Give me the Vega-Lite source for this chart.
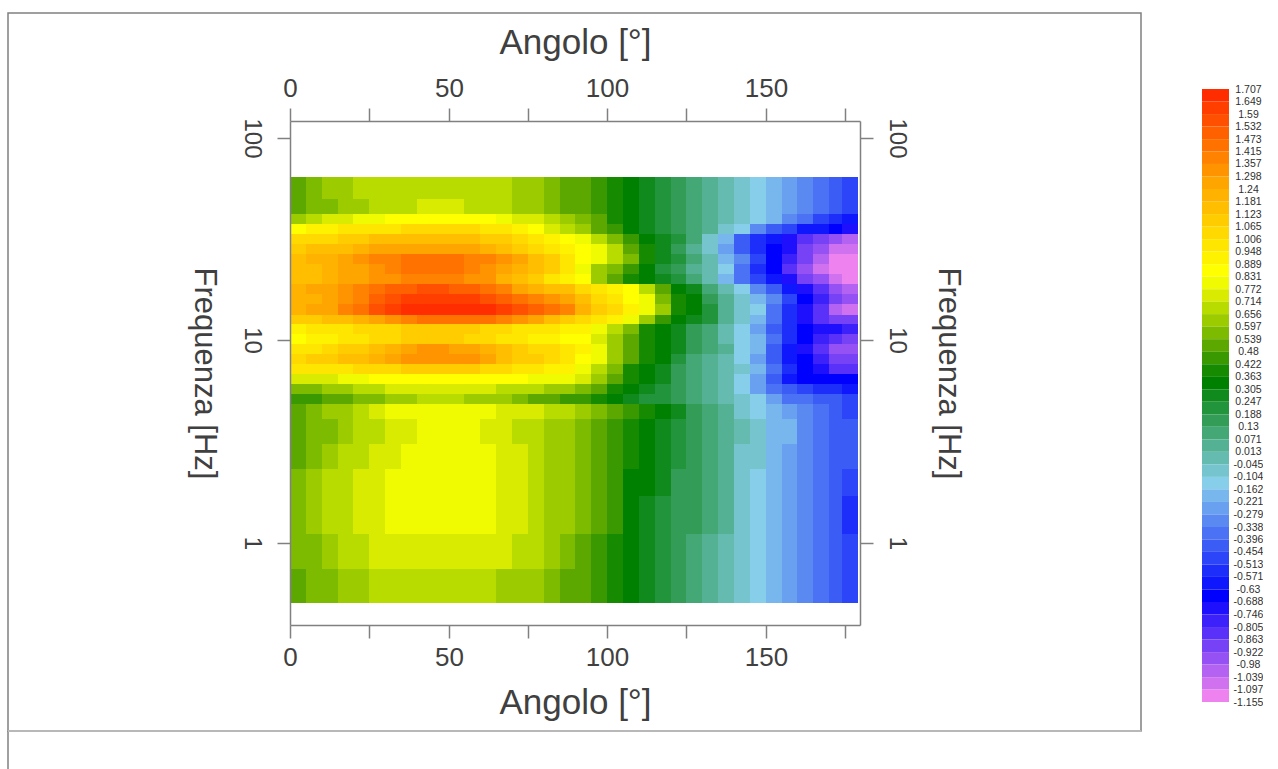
{"$schema":"https://vega.github.io/schema/vega-lite/v6.json","padding":{"left":7,"top":12,"right":0,"bottom":0},"background":"white","spacing":60,"config":{"view":{"stroke":null},"font":"Liberation Sans"},"datasets":{"rows":[{"r":0,"f":63.8,"f2":49.7},{"r":1,"f":49.7,"f2":41.9},{"r":2,"f":41.9,"f2":37.4},{"r":3,"f":37.4,"f2":33.4},{"r":4,"f":33.4,"f2":29.8},{"r":5,"f":29.8,"f2":26.6},{"r":6,"f":26.6,"f2":23.7},{"r":7,"f":23.7,"f2":21.2},{"r":8,"f":21.2,"f2":18.9},{"r":9,"f":18.9,"f2":16.9},{"r":10,"f":16.9,"f2":15.1},{"r":11,"f":15.1,"f2":13.4},{"r":12,"f":13.4,"f2":12.0},{"r":13,"f":12.0,"f2":10.7},{"r":14,"f":10.7,"f2":9.55},{"r":15,"f":9.55,"f2":8.53},{"r":16,"f":8.53,"f2":7.61},{"r":17,"f":7.61,"f2":6.79},{"r":18,"f":6.79,"f2":6.06},{"r":19,"f":6.06,"f2":5.41},{"r":20,"f":5.41,"f2":4.83},{"r":21,"f":4.83,"f2":4.07},{"r":22,"f":4.07,"f2":3.06},{"r":23,"f":3.06,"f2":2.31},{"r":24,"f":2.31,"f2":1.7},{"r":25,"f":1.7,"f2":1.1},{"r":26,"f":1.1,"f2":0.74},{"r":27,"f":0.74,"f2":0.502}],"cells":[
{"a":2.5,"r":0,"v":0.53},{"a":7.5,"r":0,"v":0.56},{"a":12.5,"r":0,"v":0.6},{"a":17.5,"r":0,"v":0.63},{"a":22.5,"r":0,"v":0.66},{"a":27.5,"r":0,"v":0.68},{"a":32.5,"r":0,"v":0.69},{"a":37.5,"r":0,"v":0.7},{"a":42.5,"r":0,"v":0.7},{"a":47.5,"r":0,"v":0.7},{"a":52.5,"r":0,"v":0.7},{"a":57.5,"r":0,"v":0.69},{"a":62.5,"r":0,"v":0.68},{"a":67.5,"r":0,"v":0.66},{"a":72.5,"r":0,"v":0.63},{"a":77.5,"r":0,"v":0.6},{"a":82.5,"r":0,"v":0.57},{"a":87.5,"r":0,"v":0.53},{"a":92.5,"r":0,"v":0.48},{"a":97.5,"r":0,"v":0.43},{"a":102.5,"r":0,"v":0.38},{"a":107.5,"r":0,"v":0.32},{"a":112.5,"r":0,"v":0.27},{"a":117.5,"r":0,"v":0.21},{"a":122.5,"r":0,"v":0.15},{"a":127.5,"r":0,"v":0.09},{"a":132.5,"r":0,"v":0.03},{"a":137.5,"r":0,"v":-0.04},{"a":142.5,"r":0,"v":-0.09},{"a":147.5,"r":0,"v":-0.16},{"a":152.5,"r":0,"v":-0.21},{"a":157.5,"r":0,"v":-0.27},{"a":162.5,"r":0,"v":-0.33},{"a":167.5,"r":0,"v":-0.39},{"a":172.5,"r":0,"v":-0.44},{"a":176.5,"r":0,"v":-0.48},
{"a":2.5,"r":1,"v":0.52},{"a":7.5,"r":1,"v":0.55},{"a":12.5,"r":1,"v":0.58},{"a":17.5,"r":1,"v":0.61},{"a":22.5,"r":1,"v":0.64},{"a":27.5,"r":1,"v":0.67},{"a":32.5,"r":1,"v":0.7},{"a":37.5,"r":1,"v":0.71},{"a":42.5,"r":1,"v":0.72},{"a":47.5,"r":1,"v":0.72},{"a":52.5,"r":1,"v":0.72},{"a":57.5,"r":1,"v":0.71},{"a":62.5,"r":1,"v":0.69},{"a":67.5,"r":1,"v":0.67},{"a":72.5,"r":1,"v":0.64},{"a":77.5,"r":1,"v":0.61},{"a":82.5,"r":1,"v":0.57},{"a":87.5,"r":1,"v":0.53},{"a":92.5,"r":1,"v":0.48},{"a":97.5,"r":1,"v":0.44},{"a":102.5,"r":1,"v":0.39},{"a":107.5,"r":1,"v":0.34},{"a":112.5,"r":1,"v":0.29},{"a":117.5,"r":1,"v":0.23},{"a":122.5,"r":1,"v":0.17},{"a":127.5,"r":1,"v":0.11},{"a":132.5,"r":1,"v":0.05},{"a":137.5,"r":1,"v":-0.02},{"a":142.5,"r":1,"v":-0.08},{"a":147.5,"r":1,"v":-0.15},{"a":152.5,"r":1,"v":-0.21},{"a":157.5,"r":1,"v":-0.27},{"a":162.5,"r":1,"v":-0.33},{"a":167.5,"r":1,"v":-0.39},{"a":172.5,"r":1,"v":-0.45},{"a":176.5,"r":1,"v":-0.5},
{"a":2.5,"r":2,"v":0.6},{"a":7.5,"r":2,"v":0.66},{"a":12.5,"r":2,"v":0.72},{"a":17.5,"r":2,"v":0.76},{"a":22.5,"r":2,"v":0.79},{"a":27.5,"r":2,"v":0.82},{"a":32.5,"r":2,"v":0.85},{"a":37.5,"r":2,"v":0.87},{"a":42.5,"r":2,"v":0.88},{"a":47.5,"r":2,"v":0.88},{"a":52.5,"r":2,"v":0.88},{"a":57.5,"r":2,"v":0.87},{"a":62.5,"r":2,"v":0.85},{"a":67.5,"r":2,"v":0.82},{"a":72.5,"r":2,"v":0.77},{"a":77.5,"r":2,"v":0.72},{"a":82.5,"r":2,"v":0.66},{"a":87.5,"r":2,"v":0.6},{"a":92.5,"r":2,"v":0.54},{"a":97.5,"r":2,"v":0.48},{"a":102.5,"r":2,"v":0.42},{"a":107.5,"r":2,"v":0.35},{"a":112.5,"r":2,"v":0.29},{"a":117.5,"r":2,"v":0.24},{"a":122.5,"r":2,"v":0.17},{"a":127.5,"r":2,"v":0.11},{"a":132.5,"r":2,"v":0.05},{"a":137.5,"r":2,"v":-0.01},{"a":142.5,"r":2,"v":-0.08},{"a":147.5,"r":2,"v":-0.15},{"a":152.5,"r":2,"v":-0.22},{"a":157.5,"r":2,"v":-0.3},{"a":162.5,"r":2,"v":-0.38},{"a":167.5,"r":2,"v":-0.46},{"a":172.5,"r":2,"v":-0.54},{"a":176.5,"r":2,"v":-0.6},
{"a":2.5,"r":3,"v":0.88},{"a":7.5,"r":3,"v":0.9},{"a":12.5,"r":3,"v":0.92},{"a":17.5,"r":3,"v":0.95},{"a":22.5,"r":3,"v":0.97},{"a":27.5,"r":3,"v":0.99},{"a":32.5,"r":3,"v":1.0},{"a":37.5,"r":3,"v":1.02},{"a":42.5,"r":3,"v":1.03},{"a":47.5,"r":3,"v":1.03},{"a":52.5,"r":3,"v":1.02},{"a":57.5,"r":3,"v":1.01},{"a":62.5,"r":3,"v":0.98},{"a":67.5,"r":3,"v":0.95},{"a":72.5,"r":3,"v":0.9},{"a":77.5,"r":3,"v":0.84},{"a":82.5,"r":3,"v":0.76},{"a":87.5,"r":3,"v":0.68},{"a":92.5,"r":3,"v":0.61},{"a":97.5,"r":3,"v":0.52},{"a":102.5,"r":3,"v":0.44},{"a":107.5,"r":3,"v":0.36},{"a":112.5,"r":3,"v":0.3},{"a":117.5,"r":3,"v":0.24},{"a":122.5,"r":3,"v":0.18},{"a":127.5,"r":3,"v":0.12},{"a":132.5,"r":3,"v":0.04},{"a":137.5,"r":3,"v":-0.05},{"a":142.5,"r":3,"v":-0.15},{"a":147.5,"r":3,"v":-0.28},{"a":152.5,"r":3,"v":-0.4},{"a":157.5,"r":3,"v":-0.5},{"a":162.5,"r":3,"v":-0.58},{"a":167.5,"r":3,"v":-0.63},{"a":172.5,"r":3,"v":-0.67},{"a":176.5,"r":3,"v":-0.7},
{"a":2.5,"r":4,"v":1.02},{"a":7.5,"r":4,"v":1.04},{"a":12.5,"r":4,"v":1.06},{"a":17.5,"r":4,"v":1.09},{"a":22.5,"r":4,"v":1.11},{"a":27.5,"r":4,"v":1.13},{"a":32.5,"r":4,"v":1.15},{"a":37.5,"r":4,"v":1.16},{"a":42.5,"r":4,"v":1.17},{"a":47.5,"r":4,"v":1.17},{"a":52.5,"r":4,"v":1.16},{"a":57.5,"r":4,"v":1.14},{"a":62.5,"r":4,"v":1.12},{"a":67.5,"r":4,"v":1.09},{"a":72.5,"r":4,"v":1.05},{"a":77.5,"r":4,"v":1.0},{"a":82.5,"r":4,"v":0.94},{"a":87.5,"r":4,"v":0.88},{"a":92.5,"r":4,"v":0.78},{"a":97.5,"r":4,"v":0.68},{"a":102.5,"r":4,"v":0.55},{"a":107.5,"r":4,"v":0.43},{"a":112.5,"r":4,"v":0.35},{"a":117.5,"r":4,"v":0.27},{"a":122.5,"r":4,"v":0.19},{"a":127.5,"r":4,"v":0.08},{"a":132.5,"r":4,"v":-0.06},{"a":137.5,"r":4,"v":-0.22},{"a":142.5,"r":4,"v":-0.42},{"a":147.5,"r":4,"v":-0.53},{"a":152.5,"r":4,"v":-0.63},{"a":157.5,"r":4,"v":-0.72},{"a":162.5,"r":4,"v":-0.82},{"a":167.5,"r":4,"v":-0.9},{"a":172.5,"r":4,"v":-0.96},{"a":176.5,"r":4,"v":-1.0},
{"a":2.5,"r":5,"v":1.12},{"a":7.5,"r":5,"v":1.14},{"a":12.5,"r":5,"v":1.16},{"a":17.5,"r":5,"v":1.18},{"a":22.5,"r":5,"v":1.21},{"a":27.5,"r":5,"v":1.24},{"a":32.5,"r":5,"v":1.26},{"a":37.5,"r":5,"v":1.28},{"a":42.5,"r":5,"v":1.29},{"a":47.5,"r":5,"v":1.29},{"a":52.5,"r":5,"v":1.28},{"a":57.5,"r":5,"v":1.26},{"a":62.5,"r":5,"v":1.22},{"a":67.5,"r":5,"v":1.17},{"a":72.5,"r":5,"v":1.1},{"a":77.5,"r":5,"v":1.03},{"a":82.5,"r":5,"v":0.96},{"a":87.5,"r":5,"v":0.9},{"a":92.5,"r":5,"v":0.86},{"a":97.5,"r":5,"v":0.78},{"a":102.5,"r":5,"v":0.66},{"a":107.5,"r":5,"v":0.52},{"a":112.5,"r":5,"v":0.38},{"a":117.5,"r":5,"v":0.28},{"a":122.5,"r":5,"v":0.17},{"a":127.5,"r":5,"v":0.05},{"a":132.5,"r":5,"v":-0.1},{"a":137.5,"r":5,"v":-0.25},{"a":142.5,"r":5,"v":-0.42},{"a":147.5,"r":5,"v":-0.56},{"a":152.5,"r":5,"v":-0.65},{"a":157.5,"r":5,"v":-0.72},{"a":162.5,"r":5,"v":-0.87},{"a":167.5,"r":5,"v":-0.97},{"a":172.5,"r":5,"v":-1.04},{"a":176.5,"r":5,"v":-1.08},
{"a":2.5,"r":6,"v":1.17},{"a":7.5,"r":6,"v":1.19},{"a":12.5,"r":6,"v":1.22},{"a":17.5,"r":6,"v":1.25},{"a":22.5,"r":6,"v":1.3},{"a":27.5,"r":6,"v":1.36},{"a":32.5,"r":6,"v":1.4},{"a":37.5,"r":6,"v":1.42},{"a":42.5,"r":6,"v":1.43},{"a":47.5,"r":6,"v":1.43},{"a":52.5,"r":6,"v":1.42},{"a":57.5,"r":6,"v":1.4},{"a":62.5,"r":6,"v":1.36},{"a":67.5,"r":6,"v":1.31},{"a":72.5,"r":6,"v":1.24},{"a":77.5,"r":6,"v":1.17},{"a":82.5,"r":6,"v":1.08},{"a":87.5,"r":6,"v":1.0},{"a":92.5,"r":6,"v":0.88},{"a":97.5,"r":6,"v":0.82},{"a":102.5,"r":6,"v":0.7},{"a":107.5,"r":6,"v":0.55},{"a":112.5,"r":6,"v":0.42},{"a":117.5,"r":6,"v":0.3},{"a":122.5,"r":6,"v":0.2},{"a":127.5,"r":6,"v":0.08},{"a":132.5,"r":6,"v":-0.04},{"a":137.5,"r":6,"v":-0.2},{"a":142.5,"r":6,"v":-0.32},{"a":147.5,"r":6,"v":-0.5},{"a":152.5,"r":6,"v":-0.64},{"a":157.5,"r":6,"v":-0.78},{"a":162.5,"r":6,"v":-0.9},{"a":167.5,"r":6,"v":-1.02},{"a":172.5,"r":6,"v":-1.12},{"a":176.5,"r":6,"v":-1.15},
{"a":2.5,"r":7,"v":1.16},{"a":7.5,"r":7,"v":1.18},{"a":12.5,"r":7,"v":1.21},{"a":17.5,"r":7,"v":1.24},{"a":22.5,"r":7,"v":1.28},{"a":27.5,"r":7,"v":1.33},{"a":32.5,"r":7,"v":1.38},{"a":37.5,"r":7,"v":1.42},{"a":42.5,"r":7,"v":1.44},{"a":47.5,"r":7,"v":1.44},{"a":52.5,"r":7,"v":1.42},{"a":57.5,"r":7,"v":1.38},{"a":62.5,"r":7,"v":1.33},{"a":67.5,"r":7,"v":1.28},{"a":72.5,"r":7,"v":1.22},{"a":77.5,"r":7,"v":1.16},{"a":82.5,"r":7,"v":1.08},{"a":87.5,"r":7,"v":0.98},{"a":92.5,"r":7,"v":0.78},{"a":97.5,"r":7,"v":0.62},{"a":102.5,"r":7,"v":0.55},{"a":107.5,"r":7,"v":0.45},{"a":112.5,"r":7,"v":0.33},{"a":117.5,"r":7,"v":0.24},{"a":122.5,"r":7,"v":0.15},{"a":127.5,"r":7,"v":0.06},{"a":132.5,"r":7,"v":-0.04},{"a":137.5,"r":7,"v":-0.16},{"a":142.5,"r":7,"v":-0.34},{"a":147.5,"r":7,"v":-0.52},{"a":152.5,"r":7,"v":-0.66},{"a":157.5,"r":7,"v":-0.82},{"a":162.5,"r":7,"v":-0.95},{"a":167.5,"r":7,"v":-1.05},{"a":172.5,"r":7,"v":-1.13},{"a":176.5,"r":7,"v":-1.15},
{"a":2.5,"r":8,"v":1.16},{"a":7.5,"r":8,"v":1.18},{"a":12.5,"r":8,"v":1.21},{"a":17.5,"r":8,"v":1.24},{"a":22.5,"r":8,"v":1.28},{"a":27.5,"r":8,"v":1.32},{"a":32.5,"r":8,"v":1.35},{"a":37.5,"r":8,"v":1.38},{"a":42.5,"r":8,"v":1.38},{"a":47.5,"r":8,"v":1.38},{"a":52.5,"r":8,"v":1.37},{"a":57.5,"r":8,"v":1.35},{"a":62.5,"r":8,"v":1.3},{"a":67.5,"r":8,"v":1.22},{"a":72.5,"r":8,"v":1.15},{"a":77.5,"r":8,"v":1.08},{"a":82.5,"r":8,"v":1.0},{"a":87.5,"r":8,"v":0.94},{"a":92.5,"r":8,"v":0.86},{"a":97.5,"r":8,"v":0.64},{"a":102.5,"r":8,"v":0.5},{"a":107.5,"r":8,"v":0.42},{"a":112.5,"r":8,"v":0.36},{"a":117.5,"r":8,"v":0.28},{"a":122.5,"r":8,"v":0.2},{"a":127.5,"r":8,"v":0.1},{"a":132.5,"r":8,"v":-0.02},{"a":137.5,"r":8,"v":-0.18},{"a":142.5,"r":8,"v":-0.34},{"a":147.5,"r":8,"v":-0.5},{"a":152.5,"r":8,"v":-0.62},{"a":157.5,"r":8,"v":-0.74},{"a":162.5,"r":8,"v":-0.88},{"a":167.5,"r":8,"v":-0.98},{"a":172.5,"r":8,"v":-1.06},{"a":176.5,"r":8,"v":-1.1},
{"a":2.5,"r":9,"v":1.21},{"a":7.5,"r":9,"v":1.24},{"a":12.5,"r":9,"v":1.27},{"a":17.5,"r":9,"v":1.33},{"a":22.5,"r":9,"v":1.39},{"a":27.5,"r":9,"v":1.45},{"a":32.5,"r":9,"v":1.5},{"a":37.5,"r":9,"v":1.53},{"a":42.5,"r":9,"v":1.55},{"a":47.5,"r":9,"v":1.55},{"a":52.5,"r":9,"v":1.53},{"a":57.5,"r":9,"v":1.5},{"a":62.5,"r":9,"v":1.46},{"a":67.5,"r":9,"v":1.38},{"a":72.5,"r":9,"v":1.29},{"a":77.5,"r":9,"v":1.22},{"a":82.5,"r":9,"v":1.18},{"a":87.5,"r":9,"v":1.13},{"a":92.5,"r":9,"v":1.05},{"a":97.5,"r":9,"v":0.98},{"a":102.5,"r":9,"v":0.92},{"a":107.5,"r":9,"v":0.84},{"a":112.5,"r":9,"v":0.68},{"a":117.5,"r":9,"v":0.5},{"a":122.5,"r":9,"v":0.34},{"a":127.5,"r":9,"v":0.26},{"a":132.5,"r":9,"v":0.1},{"a":137.5,"r":9,"v":-0.04},{"a":142.5,"r":9,"v":-0.14},{"a":147.5,"r":9,"v":-0.3},{"a":152.5,"r":9,"v":-0.45},{"a":157.5,"r":9,"v":-0.6},{"a":162.5,"r":9,"v":-0.72},{"a":167.5,"r":9,"v":-0.86},{"a":172.5,"r":9,"v":-0.97},{"a":176.5,"r":9,"v":-1.02},
{"a":2.5,"r":10,"v":1.2},{"a":7.5,"r":10,"v":1.23},{"a":12.5,"r":10,"v":1.27},{"a":17.5,"r":10,"v":1.33},{"a":22.5,"r":10,"v":1.4},{"a":27.5,"r":10,"v":1.48},{"a":32.5,"r":10,"v":1.55},{"a":37.5,"r":10,"v":1.6},{"a":42.5,"r":10,"v":1.63},{"a":47.5,"r":10,"v":1.63},{"a":52.5,"r":10,"v":1.63},{"a":57.5,"r":10,"v":1.61},{"a":62.5,"r":10,"v":1.57},{"a":67.5,"r":10,"v":1.5},{"a":72.5,"r":10,"v":1.44},{"a":77.5,"r":10,"v":1.37},{"a":82.5,"r":10,"v":1.3},{"a":87.5,"r":10,"v":1.25},{"a":92.5,"r":10,"v":1.15},{"a":97.5,"r":10,"v":1.05},{"a":102.5,"r":10,"v":0.97},{"a":107.5,"r":10,"v":0.88},{"a":112.5,"r":10,"v":0.78},{"a":117.5,"r":10,"v":0.56},{"a":122.5,"r":10,"v":0.4},{"a":127.5,"r":10,"v":0.32},{"a":132.5,"r":10,"v":0.18},{"a":137.5,"r":10,"v":0.05},{"a":142.5,"r":10,"v":-0.08},{"a":147.5,"r":10,"v":-0.18},{"a":152.5,"r":10,"v":-0.33},{"a":157.5,"r":10,"v":-0.5},{"a":162.5,"r":10,"v":-0.68},{"a":167.5,"r":10,"v":-0.8},{"a":172.5,"r":10,"v":-0.9},{"a":176.5,"r":10,"v":-0.96},
{"a":2.5,"r":11,"v":1.2},{"a":7.5,"r":11,"v":1.24},{"a":12.5,"r":11,"v":1.28},{"a":17.5,"r":11,"v":1.36},{"a":22.5,"r":11,"v":1.45},{"a":27.5,"r":11,"v":1.55},{"a":32.5,"r":11,"v":1.63},{"a":37.5,"r":11,"v":1.67},{"a":42.5,"r":11,"v":1.69},{"a":47.5,"r":11,"v":1.69},{"a":52.5,"r":11,"v":1.69},{"a":57.5,"r":11,"v":1.69},{"a":62.5,"r":11,"v":1.68},{"a":67.5,"r":11,"v":1.62},{"a":72.5,"r":11,"v":1.55},{"a":77.5,"r":11,"v":1.48},{"a":82.5,"r":11,"v":1.42},{"a":87.5,"r":11,"v":1.36},{"a":92.5,"r":11,"v":1.22},{"a":97.5,"r":11,"v":1.12},{"a":102.5,"r":11,"v":1.02},{"a":107.5,"r":11,"v":0.92},{"a":112.5,"r":11,"v":0.82},{"a":117.5,"r":11,"v":0.64},{"a":122.5,"r":11,"v":0.42},{"a":127.5,"r":11,"v":0.32},{"a":132.5,"r":11,"v":0.22},{"a":137.5,"r":11,"v":0.06},{"a":142.5,"r":11,"v":-0.06},{"a":147.5,"r":11,"v":-0.16},{"a":152.5,"r":11,"v":-0.36},{"a":157.5,"r":11,"v":-0.56},{"a":162.5,"r":11,"v":-0.72},{"a":167.5,"r":11,"v":-0.86},{"a":172.5,"r":11,"v":-1.0},{"a":176.5,"r":11,"v":-1.06},
{"a":2.5,"r":12,"v":1.1},{"a":7.5,"r":12,"v":1.12},{"a":12.5,"r":12,"v":1.14},{"a":17.5,"r":12,"v":1.17},{"a":22.5,"r":12,"v":1.2},{"a":27.5,"r":12,"v":1.24},{"a":32.5,"r":12,"v":1.3},{"a":37.5,"r":12,"v":1.36},{"a":42.5,"r":12,"v":1.42},{"a":47.5,"r":12,"v":1.46},{"a":52.5,"r":12,"v":1.46},{"a":57.5,"r":12,"v":1.45},{"a":62.5,"r":12,"v":1.42},{"a":67.5,"r":12,"v":1.36},{"a":72.5,"r":12,"v":1.3},{"a":77.5,"r":12,"v":1.25},{"a":82.5,"r":12,"v":1.18},{"a":87.5,"r":12,"v":1.12},{"a":92.5,"r":12,"v":1.05},{"a":97.5,"r":12,"v":0.98},{"a":102.5,"r":12,"v":0.9},{"a":107.5,"r":12,"v":0.82},{"a":112.5,"r":12,"v":0.62},{"a":117.5,"r":12,"v":0.46},{"a":122.5,"r":12,"v":0.36},{"a":127.5,"r":12,"v":0.3},{"a":132.5,"r":12,"v":0.2},{"a":137.5,"r":12,"v":0.04},{"a":142.5,"r":12,"v":-0.09},{"a":147.5,"r":12,"v":-0.22},{"a":152.5,"r":12,"v":-0.38},{"a":157.5,"r":12,"v":-0.55},{"a":162.5,"r":12,"v":-0.72},{"a":167.5,"r":12,"v":-0.84},{"a":172.5,"r":12,"v":-0.88},{"a":176.5,"r":12,"v":-0.9},
{"a":2.5,"r":13,"v":0.92},{"a":7.5,"r":13,"v":0.95},{"a":12.5,"r":13,"v":0.98},{"a":17.5,"r":13,"v":1.0},{"a":22.5,"r":13,"v":1.02},{"a":27.5,"r":13,"v":1.04},{"a":32.5,"r":13,"v":1.06},{"a":37.5,"r":13,"v":1.08},{"a":42.5,"r":13,"v":1.09},{"a":47.5,"r":13,"v":1.09},{"a":52.5,"r":13,"v":1.09},{"a":57.5,"r":13,"v":1.08},{"a":62.5,"r":13,"v":1.06},{"a":67.5,"r":13,"v":1.03},{"a":72.5,"r":13,"v":1.0},{"a":77.5,"r":13,"v":0.98},{"a":82.5,"r":13,"v":0.96},{"a":87.5,"r":13,"v":0.94},{"a":92.5,"r":13,"v":0.9},{"a":97.5,"r":13,"v":0.82},{"a":102.5,"r":13,"v":0.68},{"a":107.5,"r":13,"v":0.54},{"a":112.5,"r":13,"v":0.42},{"a":117.5,"r":13,"v":0.34},{"a":122.5,"r":13,"v":0.28},{"a":127.5,"r":13,"v":0.18},{"a":132.5,"r":13,"v":0.09},{"a":137.5,"r":13,"v":-0.02},{"a":142.5,"r":13,"v":-0.12},{"a":147.5,"r":13,"v":-0.26},{"a":152.5,"r":13,"v":-0.42},{"a":157.5,"r":13,"v":-0.55},{"a":162.5,"r":13,"v":-0.64},{"a":167.5,"r":13,"v":-0.7},{"a":172.5,"r":13,"v":-0.74},{"a":176.5,"r":13,"v":-0.76},
{"a":2.5,"r":14,"v":0.88},{"a":7.5,"r":14,"v":0.9},{"a":12.5,"r":14,"v":0.93},{"a":17.5,"r":14,"v":0.96},{"a":22.5,"r":14,"v":0.99},{"a":27.5,"r":14,"v":1.02},{"a":32.5,"r":14,"v":1.05},{"a":37.5,"r":14,"v":1.07},{"a":42.5,"r":14,"v":1.08},{"a":47.5,"r":14,"v":1.08},{"a":52.5,"r":14,"v":1.07},{"a":57.5,"r":14,"v":1.05},{"a":62.5,"r":14,"v":1.02},{"a":67.5,"r":14,"v":0.99},{"a":72.5,"r":14,"v":0.96},{"a":77.5,"r":14,"v":0.93},{"a":82.5,"r":14,"v":0.9},{"a":87.5,"r":14,"v":0.88},{"a":92.5,"r":14,"v":0.85},{"a":97.5,"r":14,"v":0.75},{"a":102.5,"r":14,"v":0.62},{"a":107.5,"r":14,"v":0.5},{"a":112.5,"r":14,"v":0.38},{"a":117.5,"r":14,"v":0.33},{"a":122.5,"r":14,"v":0.26},{"a":127.5,"r":14,"v":0.16},{"a":132.5,"r":14,"v":0.09},{"a":137.5,"r":14,"v":-0.01},{"a":142.5,"r":14,"v":-0.11},{"a":147.5,"r":14,"v":-0.22},{"a":152.5,"r":14,"v":-0.38},{"a":157.5,"r":14,"v":-0.55},{"a":162.5,"r":14,"v":-0.66},{"a":167.5,"r":14,"v":-0.76},{"a":172.5,"r":14,"v":-0.84},{"a":176.5,"r":14,"v":-0.88},
{"a":2.5,"r":15,"v":0.96},{"a":7.5,"r":15,"v":1.0},{"a":12.5,"r":15,"v":1.04},{"a":17.5,"r":15,"v":1.08},{"a":22.5,"r":15,"v":1.12},{"a":27.5,"r":15,"v":1.17},{"a":32.5,"r":15,"v":1.22},{"a":37.5,"r":15,"v":1.27},{"a":42.5,"r":15,"v":1.3},{"a":47.5,"r":15,"v":1.3},{"a":52.5,"r":15,"v":1.28},{"a":57.5,"r":15,"v":1.24},{"a":62.5,"r":15,"v":1.2},{"a":67.5,"r":15,"v":1.14},{"a":72.5,"r":15,"v":1.08},{"a":77.5,"r":15,"v":1.04},{"a":82.5,"r":15,"v":1.01},{"a":87.5,"r":15,"v":0.98},{"a":92.5,"r":15,"v":0.92},{"a":97.5,"r":15,"v":0.8},{"a":102.5,"r":15,"v":0.64},{"a":107.5,"r":15,"v":0.52},{"a":112.5,"r":15,"v":0.4},{"a":117.5,"r":15,"v":0.34},{"a":122.5,"r":15,"v":0.25},{"a":127.5,"r":15,"v":0.14},{"a":132.5,"r":15,"v":0.08},{"a":137.5,"r":15,"v":0.02},{"a":142.5,"r":15,"v":-0.12},{"a":147.5,"r":15,"v":-0.22},{"a":152.5,"r":15,"v":-0.4},{"a":157.5,"r":15,"v":-0.58},{"a":162.5,"r":15,"v":-0.7},{"a":167.5,"r":15,"v":-0.85},{"a":172.5,"r":15,"v":-0.94},{"a":176.5,"r":15,"v":-0.98},
{"a":2.5,"r":16,"v":1.05},{"a":7.5,"r":16,"v":1.08},{"a":12.5,"r":16,"v":1.11},{"a":17.5,"r":16,"v":1.14},{"a":22.5,"r":16,"v":1.18},{"a":27.5,"r":16,"v":1.22},{"a":32.5,"r":16,"v":1.28},{"a":37.5,"r":16,"v":1.33},{"a":42.5,"r":16,"v":1.35},{"a":47.5,"r":16,"v":1.35},{"a":52.5,"r":16,"v":1.35},{"a":57.5,"r":16,"v":1.33},{"a":62.5,"r":16,"v":1.25},{"a":67.5,"r":16,"v":1.18},{"a":72.5,"r":16,"v":1.12},{"a":77.5,"r":16,"v":1.07},{"a":82.5,"r":16,"v":1.03},{"a":87.5,"r":16,"v":1.0},{"a":92.5,"r":16,"v":0.88},{"a":97.5,"r":16,"v":0.78},{"a":102.5,"r":16,"v":0.62},{"a":107.5,"r":16,"v":0.48},{"a":112.5,"r":16,"v":0.38},{"a":117.5,"r":16,"v":0.32},{"a":122.5,"r":16,"v":0.24},{"a":127.5,"r":16,"v":0.12},{"a":132.5,"r":16,"v":0.06},{"a":137.5,"r":16,"v":-0.02},{"a":142.5,"r":16,"v":-0.12},{"a":147.5,"r":16,"v":-0.26},{"a":152.5,"r":16,"v":-0.42},{"a":157.5,"r":16,"v":-0.58},{"a":162.5,"r":16,"v":-0.68},{"a":167.5,"r":16,"v":-0.8},{"a":172.5,"r":16,"v":-0.9},{"a":176.5,"r":16,"v":-0.92},
{"a":2.5,"r":17,"v":0.95},{"a":7.5,"r":17,"v":0.96},{"a":12.5,"r":17,"v":0.98},{"a":17.5,"r":17,"v":1.0},{"a":22.5,"r":17,"v":1.02},{"a":27.5,"r":17,"v":1.03},{"a":32.5,"r":17,"v":1.05},{"a":37.5,"r":17,"v":1.07},{"a":42.5,"r":17,"v":1.08},{"a":47.5,"r":17,"v":1.08},{"a":52.5,"r":17,"v":1.08},{"a":57.5,"r":17,"v":1.07},{"a":62.5,"r":17,"v":1.05},{"a":67.5,"r":17,"v":1.02},{"a":72.5,"r":17,"v":1.0},{"a":77.5,"r":17,"v":0.97},{"a":82.5,"r":17,"v":0.94},{"a":87.5,"r":17,"v":0.9},{"a":92.5,"r":17,"v":0.82},{"a":97.5,"r":17,"v":0.7},{"a":102.5,"r":17,"v":0.56},{"a":107.5,"r":17,"v":0.42},{"a":112.5,"r":17,"v":0.33},{"a":117.5,"r":17,"v":0.26},{"a":122.5,"r":17,"v":0.14},{"a":127.5,"r":17,"v":0.08},{"a":132.5,"r":17,"v":0.04},{"a":137.5,"r":17,"v":-0.02},{"a":142.5,"r":17,"v":-0.1},{"a":147.5,"r":17,"v":-0.2},{"a":152.5,"r":17,"v":-0.38},{"a":157.5,"r":17,"v":-0.56},{"a":162.5,"r":17,"v":-0.64},{"a":167.5,"r":17,"v":-0.72},{"a":172.5,"r":17,"v":-0.82},{"a":176.5,"r":17,"v":-0.86},
{"a":2.5,"r":18,"v":0.72},{"a":7.5,"r":18,"v":0.74},{"a":12.5,"r":18,"v":0.77},{"a":17.5,"r":18,"v":0.8},{"a":22.5,"r":18,"v":0.83},{"a":27.5,"r":18,"v":0.85},{"a":32.5,"r":18,"v":0.86},{"a":37.5,"r":18,"v":0.87},{"a":42.5,"r":18,"v":0.88},{"a":47.5,"r":18,"v":0.88},{"a":52.5,"r":18,"v":0.88},{"a":57.5,"r":18,"v":0.87},{"a":62.5,"r":18,"v":0.86},{"a":67.5,"r":18,"v":0.85},{"a":72.5,"r":18,"v":0.84},{"a":77.5,"r":18,"v":0.83},{"a":82.5,"r":18,"v":0.81},{"a":87.5,"r":18,"v":0.78},{"a":92.5,"r":18,"v":0.72},{"a":97.5,"r":18,"v":0.64},{"a":102.5,"r":18,"v":0.52},{"a":107.5,"r":18,"v":0.42},{"a":112.5,"r":18,"v":0.33},{"a":117.5,"r":18,"v":0.26},{"a":122.5,"r":18,"v":0.18},{"a":127.5,"r":18,"v":0.1},{"a":132.5,"r":18,"v":0.03},{"a":137.5,"r":18,"v":-0.03},{"a":142.5,"r":18,"v":-0.12},{"a":147.5,"r":18,"v":-0.24},{"a":152.5,"r":18,"v":-0.45},{"a":157.5,"r":18,"v":-0.6},{"a":162.5,"r":18,"v":-0.66},{"a":167.5,"r":18,"v":-0.66},{"a":172.5,"r":18,"v":-0.66},{"a":176.5,"r":18,"v":-0.66},
{"a":2.5,"r":19,"v":0.56},{"a":7.5,"r":19,"v":0.58},{"a":12.5,"r":19,"v":0.61},{"a":17.5,"r":19,"v":0.64},{"a":22.5,"r":19,"v":0.67},{"a":27.5,"r":19,"v":0.7},{"a":32.5,"r":19,"v":0.73},{"a":37.5,"r":19,"v":0.74},{"a":42.5,"r":19,"v":0.75},{"a":47.5,"r":19,"v":0.75},{"a":52.5,"r":19,"v":0.75},{"a":57.5,"r":19,"v":0.74},{"a":62.5,"r":19,"v":0.72},{"a":67.5,"r":19,"v":0.7},{"a":72.5,"r":19,"v":0.68},{"a":77.5,"r":19,"v":0.66},{"a":82.5,"r":19,"v":0.64},{"a":87.5,"r":19,"v":0.61},{"a":92.5,"r":19,"v":0.55},{"a":97.5,"r":19,"v":0.48},{"a":102.5,"r":19,"v":0.4},{"a":107.5,"r":19,"v":0.33},{"a":112.5,"r":19,"v":0.26},{"a":117.5,"r":19,"v":0.2},{"a":122.5,"r":19,"v":0.13},{"a":127.5,"r":19,"v":0.08},{"a":132.5,"r":19,"v":0.02},{"a":137.5,"r":19,"v":-0.04},{"a":142.5,"r":19,"v":-0.11},{"a":147.5,"r":19,"v":-0.24},{"a":152.5,"r":19,"v":-0.36},{"a":157.5,"r":19,"v":-0.44},{"a":162.5,"r":19,"v":-0.49},{"a":167.5,"r":19,"v":-0.53},{"a":172.5,"r":19,"v":-0.56},{"a":176.5,"r":19,"v":-0.58},
{"a":2.5,"r":20,"v":0.46},{"a":7.5,"r":20,"v":0.47},{"a":12.5,"r":20,"v":0.5},{"a":17.5,"r":20,"v":0.53},{"a":22.5,"r":20,"v":0.56},{"a":27.5,"r":20,"v":0.59},{"a":32.5,"r":20,"v":0.62},{"a":37.5,"r":20,"v":0.64},{"a":42.5,"r":20,"v":0.66},{"a":47.5,"r":20,"v":0.66},{"a":52.5,"r":20,"v":0.66},{"a":57.5,"r":20,"v":0.65},{"a":62.5,"r":20,"v":0.63},{"a":67.5,"r":20,"v":0.6},{"a":72.5,"r":20,"v":0.57},{"a":77.5,"r":20,"v":0.53},{"a":82.5,"r":20,"v":0.5},{"a":87.5,"r":20,"v":0.47},{"a":92.5,"r":20,"v":0.44},{"a":97.5,"r":20,"v":0.41},{"a":102.5,"r":20,"v":0.36},{"a":107.5,"r":20,"v":0.29},{"a":112.5,"r":20,"v":0.24},{"a":117.5,"r":20,"v":0.19},{"a":122.5,"r":20,"v":0.13},{"a":127.5,"r":20,"v":0.09},{"a":132.5,"r":20,"v":0.03},{"a":137.5,"r":20,"v":-0.02},{"a":142.5,"r":20,"v":-0.09},{"a":147.5,"r":20,"v":-0.16},{"a":152.5,"r":20,"v":-0.26},{"a":157.5,"r":20,"v":-0.34},{"a":162.5,"r":20,"v":-0.39},{"a":167.5,"r":20,"v":-0.42},{"a":172.5,"r":20,"v":-0.45},{"a":176.5,"r":20,"v":-0.47},
{"a":2.5,"r":21,"v":0.52},{"a":7.5,"r":21,"v":0.56},{"a":12.5,"r":21,"v":0.61},{"a":17.5,"r":21,"v":0.65},{"a":22.5,"r":21,"v":0.7},{"a":27.5,"r":21,"v":0.74},{"a":32.5,"r":21,"v":0.78},{"a":37.5,"r":21,"v":0.8},{"a":42.5,"r":21,"v":0.82},{"a":47.5,"r":21,"v":0.82},{"a":52.5,"r":21,"v":0.81},{"a":57.5,"r":21,"v":0.8},{"a":62.5,"r":21,"v":0.78},{"a":67.5,"r":21,"v":0.76},{"a":72.5,"r":21,"v":0.74},{"a":77.5,"r":21,"v":0.72},{"a":82.5,"r":21,"v":0.7},{"a":87.5,"r":21,"v":0.68},{"a":92.5,"r":21,"v":0.62},{"a":97.5,"r":21,"v":0.56},{"a":102.5,"r":21,"v":0.5},{"a":107.5,"r":21,"v":0.44},{"a":112.5,"r":21,"v":0.37},{"a":117.5,"r":21,"v":0.32},{"a":122.5,"r":21,"v":0.25},{"a":127.5,"r":21,"v":0.18},{"a":132.5,"r":21,"v":0.1},{"a":137.5,"r":21,"v":0.04},{"a":142.5,"r":21,"v":-0.05},{"a":147.5,"r":21,"v":-0.11},{"a":152.5,"r":21,"v":-0.17},{"a":157.5,"r":21,"v":-0.24},{"a":162.5,"r":21,"v":-0.3},{"a":167.5,"r":21,"v":-0.36},{"a":172.5,"r":21,"v":-0.42},{"a":176.5,"r":21,"v":-0.46},
{"a":2.5,"r":22,"v":0.52},{"a":7.5,"r":22,"v":0.55},{"a":12.5,"r":22,"v":0.59},{"a":17.5,"r":22,"v":0.63},{"a":22.5,"r":22,"v":0.67},{"a":27.5,"r":22,"v":0.71},{"a":32.5,"r":22,"v":0.74},{"a":37.5,"r":22,"v":0.76},{"a":42.5,"r":22,"v":0.78},{"a":47.5,"r":22,"v":0.79},{"a":52.5,"r":22,"v":0.79},{"a":57.5,"r":22,"v":0.79},{"a":62.5,"r":22,"v":0.77},{"a":67.5,"r":22,"v":0.74},{"a":72.5,"r":22,"v":0.71},{"a":77.5,"r":22,"v":0.68},{"a":82.5,"r":22,"v":0.64},{"a":87.5,"r":22,"v":0.6},{"a":92.5,"r":22,"v":0.57},{"a":97.5,"r":22,"v":0.52},{"a":102.5,"r":22,"v":0.46},{"a":107.5,"r":22,"v":0.4},{"a":112.5,"r":22,"v":0.33},{"a":117.5,"r":22,"v":0.27},{"a":122.5,"r":22,"v":0.21},{"a":127.5,"r":22,"v":0.15},{"a":132.5,"r":22,"v":0.1},{"a":137.5,"r":22,"v":0.04},{"a":142.5,"r":22,"v":-0.02},{"a":147.5,"r":22,"v":-0.1},{"a":152.5,"r":22,"v":-0.17},{"a":157.5,"r":22,"v":-0.22},{"a":162.5,"r":22,"v":-0.28},{"a":167.5,"r":22,"v":-0.34},{"a":172.5,"r":22,"v":-0.4},{"a":176.5,"r":22,"v":-0.45},
{"a":2.5,"r":23,"v":0.52},{"a":7.5,"r":23,"v":0.58},{"a":12.5,"r":23,"v":0.63},{"a":17.5,"r":23,"v":0.67},{"a":22.5,"r":23,"v":0.7},{"a":27.5,"r":23,"v":0.73},{"a":32.5,"r":23,"v":0.75},{"a":37.5,"r":23,"v":0.78},{"a":42.5,"r":23,"v":0.8},{"a":47.5,"r":23,"v":0.81},{"a":52.5,"r":23,"v":0.81},{"a":57.5,"r":23,"v":0.8},{"a":62.5,"r":23,"v":0.79},{"a":67.5,"r":23,"v":0.76},{"a":72.5,"r":23,"v":0.72},{"a":77.5,"r":23,"v":0.69},{"a":82.5,"r":23,"v":0.65},{"a":87.5,"r":23,"v":0.61},{"a":92.5,"r":23,"v":0.56},{"a":97.5,"r":23,"v":0.5},{"a":102.5,"r":23,"v":0.44},{"a":107.5,"r":23,"v":0.38},{"a":112.5,"r":23,"v":0.31},{"a":117.5,"r":23,"v":0.25},{"a":122.5,"r":23,"v":0.19},{"a":127.5,"r":23,"v":0.14},{"a":132.5,"r":23,"v":0.09},{"a":137.5,"r":23,"v":0.03},{"a":142.5,"r":23,"v":-0.05},{"a":147.5,"r":23,"v":-0.1},{"a":152.5,"r":23,"v":-0.17},{"a":157.5,"r":23,"v":-0.23},{"a":162.5,"r":23,"v":-0.28},{"a":167.5,"r":23,"v":-0.34},{"a":172.5,"r":23,"v":-0.4},{"a":176.5,"r":23,"v":-0.44},
{"a":2.5,"r":24,"v":0.58},{"a":7.5,"r":24,"v":0.62},{"a":12.5,"r":24,"v":0.67},{"a":17.5,"r":24,"v":0.7},{"a":22.5,"r":24,"v":0.74},{"a":27.5,"r":24,"v":0.76},{"a":32.5,"r":24,"v":0.78},{"a":37.5,"r":24,"v":0.8},{"a":42.5,"r":24,"v":0.82},{"a":47.5,"r":24,"v":0.83},{"a":52.5,"r":24,"v":0.83},{"a":57.5,"r":24,"v":0.82},{"a":62.5,"r":24,"v":0.8},{"a":67.5,"r":24,"v":0.77},{"a":72.5,"r":24,"v":0.72},{"a":77.5,"r":24,"v":0.68},{"a":82.5,"r":24,"v":0.64},{"a":87.5,"r":24,"v":0.6},{"a":92.5,"r":24,"v":0.54},{"a":97.5,"r":24,"v":0.49},{"a":102.5,"r":24,"v":0.43},{"a":107.5,"r":24,"v":0.36},{"a":112.5,"r":24,"v":0.31},{"a":117.5,"r":24,"v":0.25},{"a":122.5,"r":24,"v":0.18},{"a":127.5,"r":24,"v":0.14},{"a":132.5,"r":24,"v":0.09},{"a":137.5,"r":24,"v":0.03},{"a":142.5,"r":24,"v":-0.05},{"a":147.5,"r":24,"v":-0.12},{"a":152.5,"r":24,"v":-0.18},{"a":157.5,"r":24,"v":-0.24},{"a":162.5,"r":24,"v":-0.3},{"a":167.5,"r":24,"v":-0.37},{"a":172.5,"r":24,"v":-0.44},{"a":176.5,"r":24,"v":-0.48},
{"a":2.5,"r":25,"v":0.59},{"a":7.5,"r":25,"v":0.63},{"a":12.5,"r":25,"v":0.67},{"a":17.5,"r":25,"v":0.7},{"a":22.5,"r":25,"v":0.74},{"a":27.5,"r":25,"v":0.77},{"a":32.5,"r":25,"v":0.79},{"a":37.5,"r":25,"v":0.8},{"a":42.5,"r":25,"v":0.82},{"a":47.5,"r":25,"v":0.83},{"a":52.5,"r":25,"v":0.83},{"a":57.5,"r":25,"v":0.82},{"a":62.5,"r":25,"v":0.8},{"a":67.5,"r":25,"v":0.77},{"a":72.5,"r":25,"v":0.72},{"a":77.5,"r":25,"v":0.68},{"a":82.5,"r":25,"v":0.64},{"a":87.5,"r":25,"v":0.6},{"a":92.5,"r":25,"v":0.54},{"a":97.5,"r":25,"v":0.49},{"a":102.5,"r":25,"v":0.43},{"a":107.5,"r":25,"v":0.36},{"a":112.5,"r":25,"v":0.3},{"a":117.5,"r":25,"v":0.24},{"a":122.5,"r":25,"v":0.18},{"a":127.5,"r":25,"v":0.13},{"a":132.5,"r":25,"v":0.08},{"a":137.5,"r":25,"v":0.03},{"a":142.5,"r":25,"v":-0.05},{"a":147.5,"r":25,"v":-0.13},{"a":152.5,"r":25,"v":-0.18},{"a":157.5,"r":25,"v":-0.25},{"a":162.5,"r":25,"v":-0.31},{"a":167.5,"r":25,"v":-0.38},{"a":172.5,"r":25,"v":-0.45},{"a":176.5,"r":25,"v":-0.52},
{"a":2.5,"r":26,"v":0.54},{"a":7.5,"r":26,"v":0.58},{"a":12.5,"r":26,"v":0.63},{"a":17.5,"r":26,"v":0.67},{"a":22.5,"r":26,"v":0.7},{"a":27.5,"r":26,"v":0.73},{"a":32.5,"r":26,"v":0.75},{"a":37.5,"r":26,"v":0.76},{"a":42.5,"r":26,"v":0.77},{"a":47.5,"r":26,"v":0.77},{"a":52.5,"r":26,"v":0.77},{"a":57.5,"r":26,"v":0.76},{"a":62.5,"r":26,"v":0.75},{"a":67.5,"r":26,"v":0.73},{"a":72.5,"r":26,"v":0.7},{"a":77.5,"r":26,"v":0.67},{"a":82.5,"r":26,"v":0.63},{"a":87.5,"r":26,"v":0.58},{"a":92.5,"r":26,"v":0.52},{"a":97.5,"r":26,"v":0.47},{"a":102.5,"r":26,"v":0.41},{"a":107.5,"r":26,"v":0.35},{"a":112.5,"r":26,"v":0.29},{"a":117.5,"r":26,"v":0.24},{"a":122.5,"r":26,"v":0.17},{"a":127.5,"r":26,"v":0.12},{"a":132.5,"r":26,"v":0.07},{"a":137.5,"r":26,"v":0.0},{"a":142.5,"r":26,"v":-0.07},{"a":147.5,"r":26,"v":-0.14},{"a":152.5,"r":26,"v":-0.2},{"a":157.5,"r":26,"v":-0.26},{"a":162.5,"r":26,"v":-0.32},{"a":167.5,"r":26,"v":-0.39},{"a":172.5,"r":26,"v":-0.44},{"a":176.5,"r":26,"v":-0.49},
{"a":2.5,"r":27,"v":0.53},{"a":7.5,"r":27,"v":0.56},{"a":12.5,"r":27,"v":0.59},{"a":17.5,"r":27,"v":0.62},{"a":22.5,"r":27,"v":0.65},{"a":27.5,"r":27,"v":0.67},{"a":32.5,"r":27,"v":0.68},{"a":37.5,"r":27,"v":0.69},{"a":42.5,"r":27,"v":0.69},{"a":47.5,"r":27,"v":0.69},{"a":52.5,"r":27,"v":0.69},{"a":57.5,"r":27,"v":0.68},{"a":62.5,"r":27,"v":0.67},{"a":67.5,"r":27,"v":0.65},{"a":72.5,"r":27,"v":0.63},{"a":77.5,"r":27,"v":0.6},{"a":82.5,"r":27,"v":0.57},{"a":87.5,"r":27,"v":0.53},{"a":92.5,"r":27,"v":0.48},{"a":97.5,"r":27,"v":0.43},{"a":102.5,"r":27,"v":0.38},{"a":107.5,"r":27,"v":0.33},{"a":112.5,"r":27,"v":0.27},{"a":117.5,"r":27,"v":0.21},{"a":122.5,"r":27,"v":0.16},{"a":127.5,"r":27,"v":0.1},{"a":132.5,"r":27,"v":0.04},{"a":137.5,"r":27,"v":-0.02},{"a":142.5,"r":27,"v":-0.08},{"a":147.5,"r":27,"v":-0.14},{"a":152.5,"r":27,"v":-0.2},{"a":157.5,"r":27,"v":-0.26},{"a":162.5,"r":27,"v":-0.32},{"a":167.5,"r":27,"v":-0.39},{"a":172.5,"r":27,"v":-0.44},{"a":176.5,"r":27,"v":-0.47}
],"bands":[{"lo":1.649,"hi":1.707},{"lo":1.59,"hi":1.649},{"lo":1.532,"hi":1.59},{"lo":1.473,"hi":1.532},{"lo":1.415,"hi":1.473},{"lo":1.357,"hi":1.415},{"lo":1.298,"hi":1.357},{"lo":1.24,"hi":1.298},{"lo":1.181,"hi":1.24},{"lo":1.123,"hi":1.181},{"lo":1.065,"hi":1.123},{"lo":1.006,"hi":1.065},{"lo":0.948,"hi":1.006},{"lo":0.889,"hi":0.948},{"lo":0.831,"hi":0.889},{"lo":0.772,"hi":0.831},{"lo":0.714,"hi":0.772},{"lo":0.656,"hi":0.714},{"lo":0.597,"hi":0.656},{"lo":0.539,"hi":0.597},{"lo":0.48,"hi":0.539},{"lo":0.422,"hi":0.48},{"lo":0.363,"hi":0.422},{"lo":0.305,"hi":0.363},{"lo":0.247,"hi":0.305},{"lo":0.188,"hi":0.247},{"lo":0.13,"hi":0.188},{"lo":0.071,"hi":0.13},{"lo":0.013,"hi":0.071},{"lo":-0.045,"hi":0.013},{"lo":-0.104,"hi":-0.045},{"lo":-0.162,"hi":-0.104},{"lo":-0.221,"hi":-0.162},{"lo":-0.279,"hi":-0.221},{"lo":-0.338,"hi":-0.279},{"lo":-0.396,"hi":-0.338},{"lo":-0.454,"hi":-0.396},{"lo":-0.513,"hi":-0.454},{"lo":-0.571,"hi":-0.513},{"lo":-0.63,"hi":-0.571},{"lo":-0.688,"hi":-0.63},{"lo":-0.746,"hi":-0.688},{"lo":-0.805,"hi":-0.746},{"lo":-0.863,"hi":-0.805},{"lo":-0.922,"hi":-0.863},{"lo":-0.98,"hi":-0.922},{"lo":-1.039,"hi":-0.98},{"lo":-1.097,"hi":-1.039},{"lo":-1.155,"hi":-1.097}],"frame":[{"x":-88.9,"x2":268.3,"y":412.9,"y2":0.1178,"y3":0.0768}]},"hconcat":[{"width":570,"height":504,"layer":[{"data":{"name":"frame"},"mark":{"type":"rect","fill":"transparent","stroke":"#808080","strokeWidth":1.5,"clip":false},"encoding":{"x":{"field":"x","type":"quantitative","scale":{"domain":[0,179.7],"nice":false,"zero":false,"round":true},"axis":{"orient":"bottom","zindex":1,"title":"Angolo [°]","titleFontSize":35,"titleFontWeight":"normal","titleColor":"#404040","titlePadding":15,"values":[0,25,50,75,100,125,150,175],"labelExpr":"datum.value%50==0?datum.label:''","labelFlush":false,"labelFontSize":26,"labelColor":"#404040","tickSize":13,"tickColor":"#808080","domainColor":"#808080","domainWidth":1.5,"tickWidth":1.5,"grid":false,"labelPadding":6}},"x2":{"field":"x2"},"y":{"field":"y","type":"quantitative","scale":{"type":"log","domain":[0.393,121],"nice":false,"round":true},"axis":{"orient":"left","zindex":1,"title":"Frequenza [Hz]","titleFontSize":31,"titleFontWeight":"normal","titleColor":"#404040","titleAngle":90,"titleBaseline":"top","titlePadding":21,"values":[1,10,100],"format":"~s","labelFlush":false,"labelAngle":90,"labelAlign":"center","labelBaseline":"top","labelFontSize":24,"labelColor":"#404040","tickSize":13,"tickColor":"#808080","domainColor":"#808080","domainWidth":1.5,"tickWidth":1.5,"grid":false,"labelPadding":14}},"y2":{"field":"y2"}}},{"data":{"name":"frame"},"mark":{"type":"rule","stroke":"#808080","strokeWidth":1.5,"clip":false},"encoding":{"x":{"field":"x","type":"quantitative","axis":null},"y":{"field":"y2","type":"quantitative","axis":null},"y2":{"field":"y3"}}},{"data":{"name":"frame"},"mark":{"type":"rule","stroke":"#b8b8b8","strokeWidth":2,"clip":false},"encoding":{"x":{"field":"x","type":"quantitative","axis":null},"x2":{"field":"x2"},"y":{"field":"y2","type":"quantitative","axis":null}}},{"data":{"name":"cells"},"transform":[{"lookup":"r","from":{"data":{"name":"rows"},"key":"r","fields":["f","f2"]}}],"mark":{"type":"rect","width":16,"clip":true},"encoding":{"x":{"field":"a","type":"quantitative","axis":{"orient":"top","zindex":1,"title":"Angolo [°]","titleFontSize":35,"titleFontWeight":"normal","titleColor":"#404040","titlePadding":15,"values":[0,25,50,75,100,125,150,175],"labelExpr":"datum.value%50==0?datum.label:''","labelFlush":false,"labelFontSize":26,"labelColor":"#404040","tickSize":13,"tickColor":"#808080","domainColor":"#808080","domainWidth":1.5,"tickWidth":1.5,"grid":false,"labelPadding":7}},"y":{"field":"f","type":"quantitative","axis":{"orient":"right","zindex":1,"title":"Frequenza [Hz]","titleFontSize":31,"titleFontWeight":"normal","titleColor":"#404040","titleAngle":90,"titlePadding":23,"values":[1,10,100],"format":"~s","labelFlush":false,"labelAngle":90,"labelAlign":"center","labelBaseline":"bottom","labelFontSize":24,"labelColor":"#404040","tickSize":13,"tickColor":"#808080","domainColor":"#808080","domainWidth":1.5,"tickWidth":1.5,"grid":false,"labelPadding":11}},"y2":{"field":"f2"},"color":{"field":"v","type":"quantitative","legend":null,"scale":{"type":"threshold","domain":[-1.097,-1.039,-0.98,-0.922,-0.863,-0.805,-0.746,-0.688,-0.63,-0.571,-0.513,-0.454,-0.396,-0.338,-0.279,-0.221,-0.162,-0.104,-0.045,0.013,0.071,0.13,0.188,0.247,0.305,0.363,0.422,0.48,0.539,0.597,0.656,0.714,0.772,0.831,0.889,0.948,1.006,1.065,1.123,1.181,1.24,1.298,1.357,1.415,1.473,1.532,1.59,1.649],"range":["#ee82ee","#d072f0","#b362f2","#9551f4","#7741f6","#5931f9","#3c21fb","#1e10fd","#0000ff","#0f17fd","#1e2efa","#2d45f8","#3c5cf6","#4b72f4","#5a89f1","#69a0ef","#78b7ed","#87ceeb","#76c4ce","#65bbb0","#54b193","#44a776","#339d58","#22943b","#118a1d","#008000","#168a00","#3a9800","#5ca800","#7cbb00","#9ccc00","#b8dc00","#d8eb00","#f0fa00","#ffff00","#fff200","#ffe600","#ffd900","#ffcc00","#ffbf00","#ffb200","#ffa500","#ff9400","#ff8300","#ff7200","#ff6000","#ff4f00","#ff3e00","#ff2d00"]}}}}],"resolve":{"axis":{"x":"independent","y":"independent"}}},{"data":{"name":"bands"},"width":27,"height":504,"mark":{"type":"rect"},"encoding":{"y":{"field":"lo","type":"quantitative","scale":{"domain":[-1.155,1.707],"range":[581,-32],"nice":false,"zero":false},"axis":{"orient":"right","title":null,"values":[1.707,1.649,1.59,1.532,1.473,1.415,1.357,1.298,1.24,1.181,1.123,1.065,1.006,0.948,0.889,0.831,0.772,0.714,0.656,0.597,0.539,0.48,0.422,0.363,0.305,0.247,0.188,0.13,0.071,0.013,-0.045,-0.104,-0.162,-0.221,-0.279,-0.338,-0.396,-0.454,-0.513,-0.571,-0.63,-0.688,-0.746,-0.805,-0.863,-0.922,-0.98,-1.039,-1.097,-1.155],"labelExpr":"''+datum.value","labelOverlap":false,"labelFontSize":10.5,"labelColor":"#303030","labelAlign":"center","labelPadding":19,"ticks":false,"domain":false,"grid":false,"labelBound":false,"labelFlush":false}},"y2":{"field":"hi"},"color":{"field":"lo","type":"quantitative","legend":null,"scale":{"type":"threshold","domain":[-1.097,-1.039,-0.98,-0.922,-0.863,-0.805,-0.746,-0.688,-0.63,-0.571,-0.513,-0.454,-0.396,-0.338,-0.279,-0.221,-0.162,-0.104,-0.045,0.013,0.071,0.13,0.188,0.247,0.305,0.363,0.422,0.48,0.539,0.597,0.656,0.714,0.772,0.831,0.889,0.948,1.006,1.065,1.123,1.181,1.24,1.298,1.357,1.415,1.473,1.532,1.59,1.649],"range":["#ee82ee","#d072f0","#b362f2","#9551f4","#7741f6","#5931f9","#3c21fb","#1e10fd","#0000ff","#0f17fd","#1e2efa","#2d45f8","#3c5cf6","#4b72f4","#5a89f1","#69a0ef","#78b7ed","#87ceeb","#76c4ce","#65bbb0","#54b193","#44a776","#339d58","#22943b","#118a1d","#008000","#168a00","#3a9800","#5ca800","#7cbb00","#9ccc00","#b8dc00","#d8eb00","#f0fa00","#ffff00","#fff200","#ffe600","#ffd900","#ffcc00","#ffbf00","#ffb200","#ffa500","#ff9400","#ff8300","#ff7200","#ff6000","#ff4f00","#ff3e00","#ff2d00"]}}}}],"resolve":{"scale":{"color":"independent"}}}
